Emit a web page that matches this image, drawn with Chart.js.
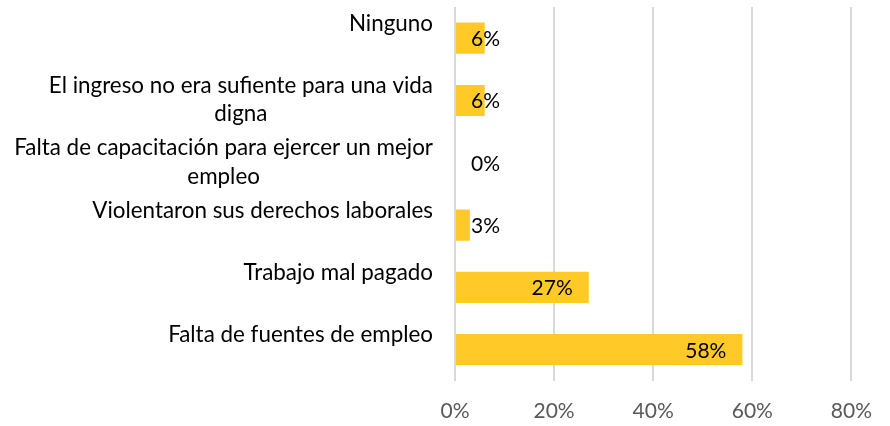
<!DOCTYPE html>
<html>
<head>
<meta charset="utf-8">
<script src="https://cdn.jsdelivr.net/npm/chart.js@4"></script>
<style>
  html, body { margin: 0; padding: 0; background: #ffffff; }
  #wrap { width: 890px; height: 426px; position: relative; }
</style>
</head>
<body>
<div id="wrap"><canvas id="c" width="890" height="426"></canvas></div>
<script>
// ---- data ----
const categories = [
  ["Ninguno"],
  ["El ingreso no era sufiente para una vida", "digna"],
  ["Falta de capacitación para ejercer un mejor", "empleo"],
  ["Violentaron sus derechos laborales"],
  ["Trabajo mal pagado"],
  ["Falta de fuentes de empleo"]
];
const values = [6, 6, 0, 3, 27, 58];
const axisMin = 0;
const axisMax = 80;
const axisStep = 20;

const FONT = "Lato, 'Open Sans', sans-serif";
const CAT_FONT_SIZE = 22.4;
const NUM_FONT_SIZE = 21;

const categoryLabelPlugin = {
  id: 'categoryLabels',
  afterDatasetsDraw(chart) {
    const ctx = chart.ctx;
    const ys = chart.scales.y;
    const xs = chart.scales.x;
    ctx.save();
    ctx.font = CAT_FONT_SIZE + "px " + FONT;
    ctx.fillStyle = "#000000";
    ctx.textBaseline = "alphabetic";
    const rightEdge = xs.getPixelForValue(axisMin) - 22;
    categories.forEach((lines, i) => {
      const y = ys.getPixelForValue(i);
      let maxW = 0;
      lines.forEach(l => { maxW = Math.max(maxW, ctx.measureText(l).width); });
      const cx = rightEdge - maxW / 2;
      ctx.textAlign = "center";
      lines.forEach((l, k) => {
        ctx.fillText(l, cx, y - 7.5 + k * 28.5);
      });
    });
    // data labels
    ctx.font = NUM_FONT_SIZE + "px " + FONT;
    const x0 = xs.getPixelForValue(0);
    ctx.textAlign = "right";
    values.forEach((v, i) => {
      const y = ys.getPixelForValue(i);
      const txt = v + "%";
      const w = ctx.measureText(txt).width;
      const xEnd = xs.getPixelForValue(v);
      const xr = Math.max(xEnd - 16, x0 + 16 + w);
      ctx.fillText(txt, xr, y + 8);
    });
    ctx.restore();
  }
};

new Chart(document.getElementById('c'), {
  type: 'bar',
  data: {
    labels: categories.map(c => c.join(' ')),
    datasets: [{
      data: values,
      backgroundColor: '#FFCA28',
      borderWidth: 0,
      barPercentage: 0.5,
      categoryPercentage: 1.0
    }]
  },
  options: {
    indexAxis: 'y',
    responsive: false,
    animation: false,
    devicePixelRatio: 1,
    layout: { padding: { left: 455, right: 37, top: 7, bottom: -16 } },
    plugins: { legend: { display: false }, tooltip: { enabled: false } },
    scales: {
      x: {
        min: axisMin,
        max: axisMax,
        ticks: {
          stepSize: axisStep,
          callback: v => v + '%',
          color: '#595959',
          font: { family: FONT, size: NUM_FONT_SIZE },
          padding: 18
        },
        grid: { color: '#D9D9D9', lineWidth: 2, drawTicks: false },
        border: { display: false }
      },
      y: {
        display: false,
        offset: true,
        grid: { display: false }
      }
    }
  },
  plugins: [categoryLabelPlugin]
});
</script>
</body>
</html>
